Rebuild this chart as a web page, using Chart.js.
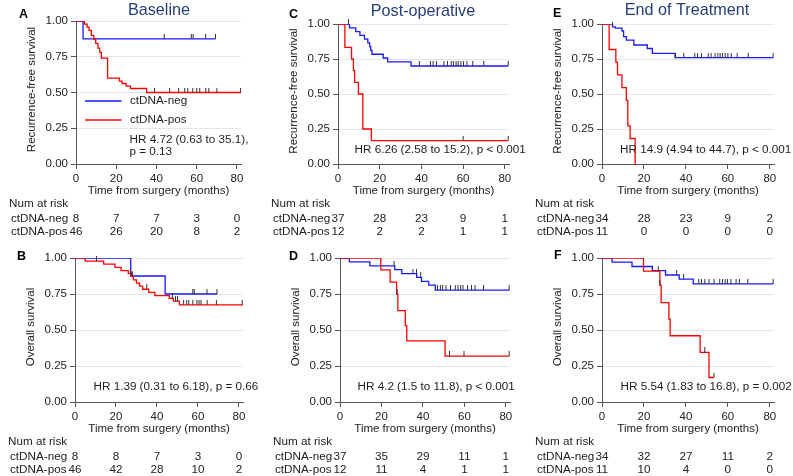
<!DOCTYPE html>
<html>
<head>
<meta charset="utf-8">
<script src="https://cdn.jsdelivr.net/npm/chart.js@4.4.0/dist/chart.umd.min.js"></script>
<style>
  body { margin: 0; background: #fff; width: 793px; height: 476px; position: relative; overflow: hidden; }
  canvas { position: absolute; }
</style>
</head>
<body>
<script>
const FONT = "'Liberation Sans', Arial, sans-serif";
Chart.defaults.font.family = FONT;
Chart.defaults.font.size = 11.5;
Chart.defaults.color = '#222';

const xTicks = [0, 20, 40, 60, 80];
const yTicks = [0, 0.25, 0.5, 0.75, 1];
const xMax = 82;

// A - Baseline, recurrence-free survival  ([months, survival])
const aNeg = [[0,1],[3.5,0.875],[69.3,0.875]];
const aNegCens = [43.8, 57.3, 58.2, 64.4, 69.3];
const aPos = [[0,1],[4.2,0.978],[5.5,0.957],[6.5,0.935],[7.6,0.90],[8.8,0.874],[9.8,0.843],[10.9,0.81],[11.8,0.78],[12.6,0.74],[15.7,0.60],[21.6,0.58],[22.9,0.563],[24.9,0.545],[27.1,0.528],[35.1,0.50],[82,0.50]];
const aPosCens = [39, 46.5, 51, 54, 55.5, 58, 60, 61.5, 64.5, 66, 70, 81.8];
const aRiskNeg = [8, 7, 7, 3, 0];
const aRiskPos = [46, 26, 20, 8, 2];

// C - Post-operative, recurrence-free survival
const cNeg = [[0,1],[5.5,0.973],[8.5,0.946],[10.5,0.919],[12.7,0.892],[14.3,0.865],[15.2,0.838],[15.7,0.811],[16.3,0.784],[21.7,0.757],[23.8,0.73],[35,0.70],[81.6,0.70]];
const cNegCens = [5, 39, 44.3, 45.6, 47.2, 50.8, 52.5, 54.3, 55.3, 56.6, 57.6, 58.9, 60.2, 61.8, 64.6, 69.9, 81.6];
const cPos = [[0,1],[3.3,0.833],[6.5,0.75],[7.4,0.667],[8,0.583],[9.8,0.5],[11.9,0.25],[16,0.167],[81.6,0.167]];
const cPosCens = [60, 81.6];
const cRiskNeg = [37, 28, 23, 9, 1];
const cRiskPos = [12, 2, 2, 1, 1];

// E - End of treatment, recurrence-free survival
const eNeg = [[0,1],[5,0.98],[6.3,0.97],[9.5,0.95],[10.3,0.91],[11.6,0.885],[15.2,0.85],[21.6,0.825],[24,0.79],[34.8,0.76],[81.6,0.76]];
const eNegCens = [5, 35, 39, 44.2, 45.5, 47.4, 50.6, 52, 53.9, 55.2, 56.3, 57.4, 58.7, 60, 61.6, 64.4, 69.7, 81.6];
const ePos = [[0,1],[3.4,0.818],[6.6,0.727],[7.4,0.636],[9.5,0.545],[11.6,0.455],[12.3,0.273],[13.4,0.182],[15.8,0]];
const ePosCens = [];
const eRiskNeg = [34, 28, 23, 9, 2];
const eRiskPos = [11, 0, 0, 0, 0];

// B - Baseline, overall survival
const bNeg = [[0,1],[27.2,0.875],[44,0.75],[69.3,0.75]];
const bNegCens = [27.8, 57.5, 58.2, 64.4, 69.3];
const bPos = [[0,1],[5,0.978],[14,0.957],[19.5,0.935],[22.5,0.913],[26,0.891],[27.5,0.87],[28.5,0.848],[30,0.826],[31.5,0.804],[33,0.783],[36,0.761],[39,0.739],[46,0.72],[48,0.70],[51,0.675],[82,0.675]];
const bPosCens = [10.5, 27, 28, 35, 47.5, 49, 50, 53, 54.5, 55.5, 57.5, 59.5, 60.5, 61.5, 64.5, 69, 81.6];
const bRiskNeg = [8, 8, 7, 3, 0];
const bRiskPos = [46, 42, 28, 10, 2];

// D - Post-operative, overall survival
const dNeg = [[0,1],[4.5,0.973],[14.4,0.946],[26.4,0.919],[29.8,0.892],[37,0.865],[39.3,0.838],[42.8,0.811],[46,0.777],[81.6,0.777]];
const dNegCens = [26.1, 35.2, 36.9, 38.9, 47, 48.4, 49.5, 51.1, 53.3, 55.6, 56.9, 58.2, 59.3, 61.5, 63.4, 65.1, 69.2, 81.6];
const dPos = [[0,1],[19.7,0.917],[24.2,0.833],[27.3,0.75],[27.9,0.635],[31.5,0.53],[32.2,0.424],[50.7,0.318],[81.6,0.318]];
const dPosCens = [27.5, 52.8, 59.8, 81.6];
const dRiskNeg = [37, 35, 29, 11, 1];
const dRiskPos = [12, 11, 4, 1, 1];

// F - End of treatment, overall survival
const fNeg = [[0,1],[4.8,0.971],[14.3,0.941],[24,0.912],[30.3,0.882],[36.8,0.853],[43.5,0.82],[81.6,0.82]];
const fNegCens = [26.8, 35.6, 38.9, 46.1, 47.4, 49, 51, 53.4, 56.1, 57.4, 58.7, 59.8, 61.5, 63.9, 65.5, 69.5, 81.6];
const fPos = [[0,1],[19.8,0.909],[27.6,0.81],[28.2,0.69],[31.9,0.575],[32.5,0.46],[46.8,0.345],[51,0.17],[53.4,0.17]];
const fPosCens = [27.6, 49, 53.4];
const fRiskNeg = [34, 32, 27, 11, 2];
const fRiskPos = [11, 10, 4, 0, 0];

const NEG = 'rgb(25,25,255)';
const POS = 'rgb(255,0,0)';
const TITLE_COLOR = '#253e78';
const GRID = '#dfe8ee';
const AXIS = '#555';

// canvas: [left, top, width, height]; plot: [left, top, right, bottom] (page px)
const panels = [
  { letter: 'A', title: 'Baseline', titlePos: [159, 11], letterPos: [19, 15],
    canvas: [0, 0, 262, 240], plot: [76, 21, 241, 164], yTitle: 'Recurrence-free survival',
    neg: aNeg, negCens: aNegCens, pos: aPos, posCens: aPosCens, riskNeg: aRiskNeg, riskPos: aRiskPos,
    hr: ['HR 4.72 (0.63 to 35.1),', 'p = 0.13'], hrPos: [129.5, 139.5], legend: true },
  { letter: 'C', title: 'Post-operative', titlePos: [423, 12], letterPos: [289, 15],
    canvas: [262, 0, 264, 240], plot: [338, 24, 509, 164], yTitle: 'Recurrence-free survival',
    neg: cNeg, negCens: cNegCens, pos: cPos, posCens: cPosCens, riskNeg: cRiskNeg, riskPos: cRiskPos,
    hr: ['HR 6.26 (2.58 to 15.2), p < 0.001'], hrPos: [354.5, 150] },
  { letter: 'E', title: 'End of Treatment', titlePos: [687, 11], letterPos: [553, 14],
    canvas: [526, 0, 267, 240], plot: [602, 24, 774, 164], yTitle: 'Recurrence-free survival',
    neg: eNeg, negCens: eNegCens, pos: ePos, posCens: ePosCens, riskNeg: eRiskNeg, riskPos: eRiskPos,
    hr: ['HR 14.9 (4.94 to 44.7), p < 0.001'], hrPos: [620, 150] },
  { letter: 'B', letterPos: [17, 257],
    canvas: [0, 240, 262, 236], plot: [75, 258, 243, 402], yTitle: 'Overall survival',
    neg: bNeg, negCens: bNegCens, pos: bPos, posCens: bPosCens, riskNeg: bRiskNeg, riskPos: bRiskPos,
    hr: ['HR 1.39 (0.31 to 6.18), p = 0.66'], hrPos: [93.5, 387] },
  { letter: 'D', letterPos: [289, 257],
    canvas: [262, 240, 264, 236], plot: [340, 258, 510, 402], yTitle: 'Overall survival',
    neg: dNeg, negCens: dNegCens, pos: dPos, posCens: dPosCens, riskNeg: dRiskNeg, riskPos: dRiskPos,
    hr: ['HR 4.2 (1.5 to 11.8), p < 0.001'], hrPos: [357.5, 387] },
  { letter: 'F', letterPos: [554, 256],
    canvas: [526, 240, 267, 236], plot: [602, 258, 774, 402], yTitle: 'Overall survival',
    neg: fNeg, negCens: fNegCens, pos: fPos, posCens: fPosCens, riskNeg: fRiskNeg, riskPos: fRiskPos,
    hr: ['HR 5.54 (1.83 to 16.8), p = 0.002'], hrPos: [620.5, 387] }
];

function survAt(curve, t) {
  let s = curve[0][1];
  for (const [x, y] of curve) { if (x <= t) s = y; }
  return s;
}

// censor tick: short vertical stroke sitting on top of the curve
const censorMark = document.createElement('canvas');
censorMark.width = 3; censorMark.height = 10;
{
  const c = censorMark.getContext('2d');
  c.strokeStyle = '#333'; c.lineWidth = 1;
  c.beginPath(); c.moveTo(1.5, 0); c.lineTo(1.5, 5); c.stroke();
}

function decor(p) {
  const [ox, oy] = p.canvas;
  return {
    id: 'decor' + p.letter,
    afterDraw(chart) {
      const { ctx, chartArea: ca, scales: { x } } = chart;
      ctx.save();
      ctx.textBaseline = 'middle';
      ctx.fillStyle = '#000';
      ctx.textAlign = 'left';
      ctx.font = `bold 12.5px ${FONT}`;
      ctx.fillText(p.letter, p.letterPos[0] - ox, p.letterPos[1] - oy);
      if (p.title) {
        ctx.font = `16.2px ${FONT}`;
        ctx.fillStyle = TITLE_COLOR;
        ctx.textAlign = 'center';
        ctx.fillText(p.title, p.titlePos[0] - ox, p.titlePos[1] - oy);
      }
      ctx.font = `11.5px ${FONT}`;
      ctx.fillStyle = '#222';
      // axis titles
      ctx.save();
      ctx.translate(ca.left - 44, (ca.top + ca.bottom) / 2 - 3);
      ctx.rotate(-Math.PI / 2);
      ctx.textAlign = 'center';
      ctx.fillText(p.yTitle, 0, 0);
      ctx.restore();
      ctx.textAlign = 'center';
      ctx.fillText('Time from surgery (months)', (ca.left + ca.right) / 2, ca.bottom + 27);
      // hazard ratio
      ctx.textAlign = 'left';
      ctx.font = `11.7px ${FONT}`;
      p.hr.forEach((line, i) => ctx.fillText(line, p.hrPos[0] - ox, p.hrPos[1] - oy + i * 12));
      // legend
      if (p.legend) {
        [[NEG, 'ctDNA-neg', 101], [POS, 'ctDNA-pos', 120]].forEach(([col, lab, y]) => {
          ctx.strokeStyle = col; ctx.lineWidth = 1.4;
          ctx.beginPath(); ctx.moveTo(85 - ox, y - oy); ctx.lineTo(121.5 - ox, y - oy); ctx.stroke();
          ctx.fillText(lab, 130 - ox, y - oy);
        });
      }
      // number at risk table
      ctx.font = `11.7px ${FONT}`;
      ctx.fillText('Num at risk', ca.left - 67, ca.bottom + 40);
      ctx.fillText('ctDNA-neg', ca.left - 65, ca.bottom + 55);
      ctx.fillText('ctDNA-pos', ca.left - 65, ca.bottom + 67.5);
      ctx.textAlign = 'center';
      xTicks.forEach((t, i) => {
        const px = x.getPixelForValue(t);
        ctx.fillText(String(p.riskNeg[i]), px, ca.bottom + 55);
        ctx.fillText(String(p.riskPos[i]), px, ca.bottom + 67.5);
      });
      ctx.restore();
    }
  };
}

panels.forEach(p => {
  const [cl, ct, cw, chh] = p.canvas;
  const [pl, pt, pr, pb] = p.plot;
  const cv = document.createElement('canvas');
  cv.width = cw; cv.height = chh;
  cv.style.left = cl + 'px'; cv.style.top = ct + 'px';
  cv.style.width = cw + 'px'; cv.style.height = chh + 'px';
  document.body.appendChild(cv);

  const xH = 20;
  const curve = (c, col) => ({
    data: c.map(([x, y]) => ({ x, y })), stepped: true, borderColor: col,
    borderWidth: 1.3, pointRadius: 0, fill: false, order: 2
  });
  const cens = (ts, c) => ({
    data: ts.map(t => ({ x: t, y: survAt(c, t) })), showLine: false,
    pointStyle: censorMark, pointRadius: 3, clip: false, order: 1
  });

  new Chart(cv, {
    type: 'line',
    data: {
      datasets: [
        cens(p.negCens, p.neg), cens(p.posCens, p.pos),
        curve(p.pos, POS), curve(p.neg, NEG)
      ]
    },
    options: {
      responsive: false,
      animation: false,
      events: [],
      layout: { padding: { top: pt - ct, left: 0, right: cl + cw - pr, bottom: ct + chh - pb - xH } },
      plugins: { legend: { display: false }, tooltip: { enabled: false }, title: { display: false } },
      scales: {
        x: {
          type: 'linear', min: 0, max: xMax,
          afterBuildTicks: s => { s.ticks = xTicks.map(v => ({ value: v })); },
          afterFit: s => { s.height = xH; },
          ticks: { padding: 3, maxRotation: 0, callback: v => v },
          grid: { drawOnChartArea: false, tickLength: 5, tickColor: AXIS },
          border: { color: AXIS, width: 1 }
        },
        y: {
          min: 0, max: 1,
          afterBuildTicks: s => { s.ticks = yTicks.map(v => ({ value: v })); },
          afterFit: s => { s.width = pl - cl; },
          ticks: { padding: 3, callback: v => Number(v).toFixed(2) },
          grid: {
            color: c => (c.tick && c.tick.value === 0 ? 'rgba(0,0,0,0)' : GRID),
            tickLength: 5, tickColor: AXIS
          },
          border: { color: AXIS, width: 1 }
        }
      }
    },
    plugins: [decor(p)]
  });
});
</script>
</body>
</html>
